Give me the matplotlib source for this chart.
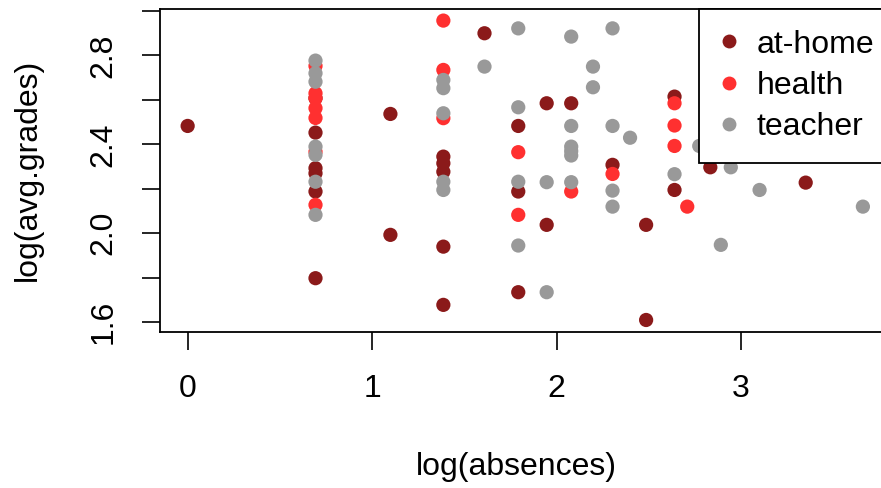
import matplotlib
matplotlib.use('Agg')
import matplotlib.pyplot as plt
from matplotlib.lines import Line2D

plt.rcParams['font.family'] = ['Liberation Sans', 'DejaVu Sans']

# log(absences) / log(avg.grades) per reason group
home_x = [0.0, 0.693, 0.693, 0.693, 0.693, 0.693, 0.693, 1.099, 1.099,
          1.386, 1.386, 1.386, 1.386, 1.386, 1.609, 1.792, 1.792, 1.792,
          1.946, 1.946, 2.079, 2.303, 2.485, 2.485, 2.639, 2.639, 2.833, 3.35]
home_y = [2.483, 2.608, 2.453, 2.293, 2.27, 2.188, 1.798, 2.537, 1.993,
          2.345, 2.315, 2.277, 1.94, 1.678, 2.9, 2.483, 2.188, 1.735,
          2.585, 2.038, 2.585, 2.308, 2.038, 1.61, 2.615, 2.195, 2.297, 2.228]

health_x = [0.693, 0.693, 0.693, 0.693, 0.693, 0.693, 0.693,
            1.386, 1.386, 1.386, 1.792, 1.792, 2.079, 2.303,
            2.639, 2.639, 2.639, 2.708]
health_y = [2.753, 2.63, 2.608, 2.563, 2.519, 2.367, 2.128,
            2.957, 2.735, 2.518, 2.365, 2.083, 2.188, 2.267,
            2.585, 2.485, 2.393, 2.12]

teacher_x = [0.693, 0.693, 0.693, 0.693, 0.693, 0.693, 0.693,
             1.386, 1.386, 1.386, 1.386, 1.386, 1.609,
             1.792, 1.792, 1.792, 1.792, 1.946, 1.946,
             2.079, 2.079, 2.079, 2.079, 2.079, 2.079, 2.197, 2.197,
             2.303, 2.303, 2.303, 2.303, 2.398, 2.639, 2.773, 2.89,
             2.944, 3.10, 3.66]
teacher_y = [2.777, 2.72, 2.682, 2.39, 2.353, 2.232, 2.083,
             2.69, 2.653, 2.54, 2.232, 2.195, 2.75,
             2.922, 2.567, 2.232, 1.945, 2.23, 1.735,
             2.885, 2.483, 2.39, 2.37, 2.35, 2.23, 2.75, 2.657,
             2.922, 2.483, 2.192, 2.12, 2.43, 2.266, 2.393, 1.948,
             2.297, 2.195, 2.12]

groups = ['at-home', 'health', 'teacher']
colors = ['#8B1A1A', '#FF3030', '#999999']

xticks = [0, 1, 2, 3]
yticks = [1.6, 1.8, 2.0, 2.2, 2.4, 2.6, 2.8, 3.0]
ytick_labels = ['1.6', '', '2.0', '', '2.4', '', '2.8', '']

fs = 23
fig = plt.figure(figsize=(8.81, 4.88), dpi=100)
ax = fig.add_axes([0.182, 0.3197, 0.8343, 0.6627])

series = [(home_x, home_y), (health_x, health_y), (teacher_x, teacher_y)]
for (xs, ys), c in zip(series, colors):
    ax.scatter(xs, ys, s=105, color=c, edgecolors='none', zorder=3)

ax.set_xlim(-0.148, 3.836)
ax.set_ylim(1.556, 3.011)
ax.set_xticks(xticks)
ax.set_xticklabels([str(t) for t in xticks])
ax.set_yticks(yticks)
ax.set_yticklabels(ytick_labels, rotation=90, va='center')
ax.tick_params(direction='out', length=13, width=1.2, labelsize=fs, pad=17)
for sp in ax.spines.values():
    sp.set_linewidth(1.3)

ax.set_xlabel('log(absences)', fontsize=fs)
ax.xaxis.set_label_coords(0.485, -0.372)
ax.set_ylabel('log(avg.grades)', fontsize=fs)
ax.yaxis.set_label_coords(-0.16, 0.5)

handles = [Line2D([], [], marker='o', linestyle='none', color=c,
                  markersize=10, markeredgewidth=0) for c in colors]
leg = ax.legend(handles, groups, loc='upper right', bbox_to_anchor=(1, 1),
                borderaxespad=0, fancybox=False, framealpha=1,
                edgecolor='black', fontsize=fs, handlelength=0.6,
                handletextpad=0.56, labelspacing=0.35, borderpad=0.66)
leg.get_frame().set_linewidth(1.3)
leg.set_zorder(5)

fig.savefig('out.png', dpi=100)
